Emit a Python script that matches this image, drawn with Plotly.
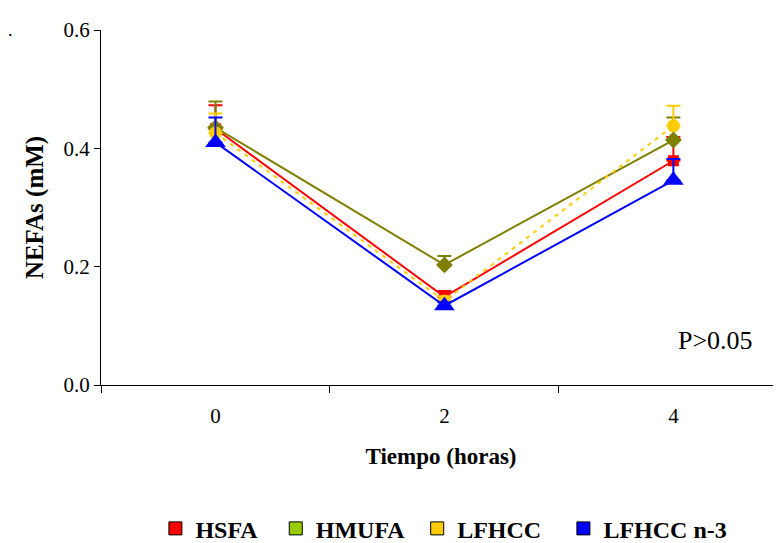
import plotly.graph_objects as go

tiempo = ["0", "2", "4"]
series_names = ["HSFA", "HMUFA", "LFHCC", "LFHCC n-3"]
hsfa = [0.433, 0.149, 0.379]
hmufa = [0.435, 0.203, 0.414]
lfhcc = [0.426, 0.142, 0.438]
lfhcc_n3 = [0.410, 0.134, 0.346]
err_hsfa = [0.040, 0.010, 0.040]
err_hmufa = [0.044, 0.015, 0.038]
err_lfhcc = [0.033, 0.008, 0.034]
err_lfhcc_n3 = [0.042, 0.006, 0.036]

values = [hsfa, hmufa, lfhcc, lfhcc_n3]
errors = [err_hsfa, err_hmufa, err_lfhcc, err_lfhcc_n3]
line_colors = ["#FF0000", "#808000", "#FFCC00", "#0000FF"]
legend_colors = ["#FF0000", "#99CC00", "#FFCC00", "#0000FF"]
symbols = ["square", "diamond", "circle", "triangle-up"]
sizes = [11, 13, 13, 18]
dashes = ["solid", "solid", "4px,5px", "solid"]
legend_ids = ["legend", "legend2", "legend3", "legend4"]
legend_x = [0.08, 0.257, 0.465, 0.68]

SERIF = "Liberation Serif, Times New Roman, DejaVu Serif, serif"

fig = go.Figure()
for name, v, e, lc, sym, sz, d in zip(series_names, values, errors, line_colors, symbols, sizes, dashes):
    fig.add_trace(go.Scatter(
        x=tiempo, y=v, mode="lines+markers", name=name, showlegend=False,
        line=dict(color=lc, width=2, dash=d),
        marker=dict(symbol=sym, size=sz, color=lc),
        error_y=dict(type="data", array=e, arrayminus=[0, 0, 0], symmetric=False,
                     color=lc, thickness=2, width=7),
    ))
for name, lc, lid in zip(series_names, legend_colors, legend_ids):
    fig.add_trace(go.Scatter(
        x=[None], y=[None], mode="markers", name=name, legend=lid,
        marker=dict(symbol="square", size=13, color=lc, line=dict(color="black", width=1)),
    ))

legend_font = dict(family=SERIF, size=24, color="black", weight="bold")
legend_layout = {}
for lid, lx in zip(legend_ids, legend_x):
    legend_layout[lid] = dict(orientation="h", x=lx, xanchor="left", y=-0.405, yanchor="middle",
                              font=legend_font, itemwidth=30, bgcolor="rgba(0,0,0,0)")

fig.update_layout(
    width=773, height=535,
    margin=dict(l=93, r=0, t=22, b=158, autoexpand=False),
    paper_bgcolor="white", plot_bgcolor="white",
    font=dict(family=SERIF, color="black"),
    showlegend=True,
    xaxis=dict(type="category", range=[-0.5, 2.47], showline=True, linecolor="black", linewidth=1,
               ticks="outside", tickson="boundaries", ticklen=7, tickcolor="black",
               tickfont=dict(size=21, family=SERIF), ticklabelstandoff=12, showgrid=False, zeroline=False,
               title=dict(text="Tiempo (horas)", font=dict(size=23, weight="bold", family=SERIF), standoff=20)),
    yaxis=dict(range=[0, 0.6], showline=True, linecolor="black", linewidth=1,
               ticks="outside", ticklen=6, tickcolor="black", tickvals=[0, 0.2, 0.4, 0.6],
               tickformat=".1f", tickfont=dict(size=21, family=SERIF), showgrid=False, zeroline=False,
               title=dict(text="NEFAs (mM)", font=dict(size=25, weight="bold", family=SERIF), standoff=12)),
    annotations=[
        dict(text="P>0.05", xref="paper", yref="paper", x=0.962, y=0.125, xanchor="right",
             yanchor="middle", showarrow=False, font=dict(size=26, family=SERIF)),
        dict(text=".", xref="paper", yref="paper", x=-0.14, y=1.0, xanchor="left", yanchor="middle",
             showarrow=False, font=dict(size=18, family=SERIF)),
    ],
    **legend_layout,
)
fig.write_html("out.html")
